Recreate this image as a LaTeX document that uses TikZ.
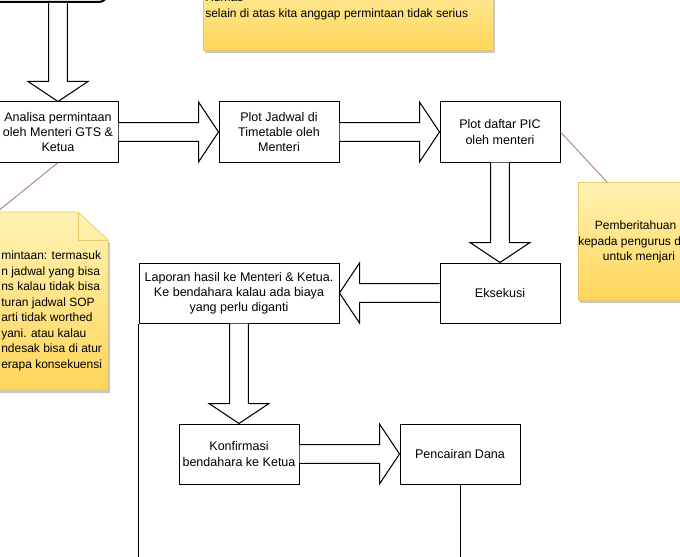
\documentclass[tikz,border=0pt]{standalone}
\usepackage{fontspec}
\setmainfont{Liberation Sans}
\usetikzlibrary{positioning, calc, shadows}
\definecolor{notetop}{HTML}{FFF3B3}
\definecolor{notebottom}{HTML}{FFD55A}
\definecolor{noteline}{HTML}{E8C66A}
\definecolor{noteshadow}{HTML}{C8C8C8}
\definecolor{linkred}{HTML}{A8707A}
\tikzset{
    process/.style={
        rectangle, minimum width=90pt, minimum height=45pt, inner sep=2pt,
        align=center, draw=black, line width=0.75pt, font=\fontsize{9.4}{11.4}\selectfont
    },
    wideprocess/.style={
        process, minimum width=150pt
    },
    startstop/.style={
        rectangle, rounded corners=6pt, minimum width=120pt, minimum height=45pt,
        draw=black, line width=1.5pt
    },
    blockarrow/.style={
        draw=black, fill=white, line width=0.75pt, line join=miter
    },
    flowline/.style={
        draw=black, line width=0.75pt
    },
    notebox/.style={
        top color=notetop, bottom color=notebottom, draw=noteline, line width=0.5pt,
        drop shadow={shadow xshift=1.5pt, shadow yshift=-2.25pt, fill=noteshadow, opacity=1}
    },
    notetext/.style={
        align=left, inner sep=0pt, font=\fontsize{9}{11.6}\selectfont
    },
    notelink/.style={
        draw=linkred, line width=0.6pt
    }
}
\newcommand{\fatarrow}[2]{%
    \coordinate (fa-s) at #1;
    \coordinate (fa-t) at #2;
    \coordinate (fa-h) at ($(fa-t)!15pt!(fa-s)$);
    \draw[blockarrow] ($(fa-s)!7pt!90:(fa-t)$) -- ($(fa-h)!7pt!-90:(fa-s)$)
        -- ($(fa-h)!22.5pt!-90:(fa-s)$) -- (fa-t) -- ($(fa-h)!22.5pt!90:(fa-s)$)
        -- ($(fa-h)!7pt!90:(fa-s)$) -- ($(fa-s)!7pt!-90:(fa-t)$);}

\begin{document}
\begin{tikzpicture}[x=0.75pt, y=-0.75pt, node distance=75pt and 75pt]

    \useasboundingbox (0,0) rectangle (680,556);
    \clip (0,0) rectangle (680,556);
    \fill[white] (0,0) rectangle (680,556);

    % notes
    \shade[notebox] (203,-40) rectangle (493,50);
    \node[notetext, anchor=west] (catatanatas) at (205,6.5)
        {Humas\\selain di atas kita anggap permintaan tidak serius};

    \shade[notebox] (-60,212) -- (78,212) -- (108,240) -- (108,390) -- (-60,390) -- cycle;
    \draw[noteline, line width=0.5pt] (78,212) -- (78,240) -- (108,240);
    \node[notetext, anchor=west] (catatankiri) at (1,311)
        {mintaan: termasuk\\n jadwal yang bisa\\ns kalau tidak bisa\\turan jadwal SOP\\arti tidak worthed\\yani. atau kalau\\ndesak bisa di atur\\erapa konsekuensi};

    \shade[notebox] (578,182) rectangle (760,300);
    \node[notetext, anchor=west] (catatankanan) at (578,242)
        {\hspace*{12.5pt}Pemberitahuan\\kepada pengurus d\\\hspace*{18.5pt}untuk menjari};

    \coordinate (kiritop)  at (-3,212);
    \coordinate (kanantop) at (607,182);

    % flow
    \node[startstop] (mulai) at (27,-28) {};
    \node[process]                        (analisa)    at (58,132) {Analisa permintaan\\oleh Menteri GTS \&\\Ketua};
    \node[process, right=of analisa]      (jadwal)     {Plot Jadwal di\\Timetable oleh\\Menteri};
    \node[process, right=of jadwal]       (pic)        {Plot daftar PIC\\oleh menteri};
    \node[process, below=of pic]          (eksekusi)   {Eksekusi};
    \node[wideprocess, left=of eksekusi]  (laporan)    {Laporan hasil ke Menteri \& Ketua.\\Ke bendahara kalau ada biaya\\yang perlu diganti};
    \node[process, below=of laporan]      (konfirmasi) {Konfirmasi\\bendahara ke Ketua};
    \node[process, right=of konfirmasi]   (pencairan)  {Pencairan Dana};

    \coordinate (lapend) at ($(laporan.south west)+(0,260)$);
    \coordinate (danaend) at ($(pencairan.south)+(0,120)$);

    \fatarrow{(analisa.north |- mulai.south)}{(analisa.north)}
    \fatarrow{(analisa.east)}{(jadwal.west)}
    \fatarrow{(jadwal.east)}{(pic.west)}
    \fatarrow{(pic.south)}{(eksekusi.north)}
    \fatarrow{(eksekusi.west)}{(laporan.east)}
    \fatarrow{(laporan.south)}{(konfirmasi.north)}
    \fatarrow{(konfirmasi.east)}{(pencairan.west)}

    \draw[flowline] (laporan.south west) -- (lapend);
    \draw[flowline] (pencairan.south) -- (danaend);

    \draw[notelink] (analisa.south) -- (kiritop);
    \draw[notelink] (pic.east) -- (kanantop);

\end{tikzpicture}
\end{document}
